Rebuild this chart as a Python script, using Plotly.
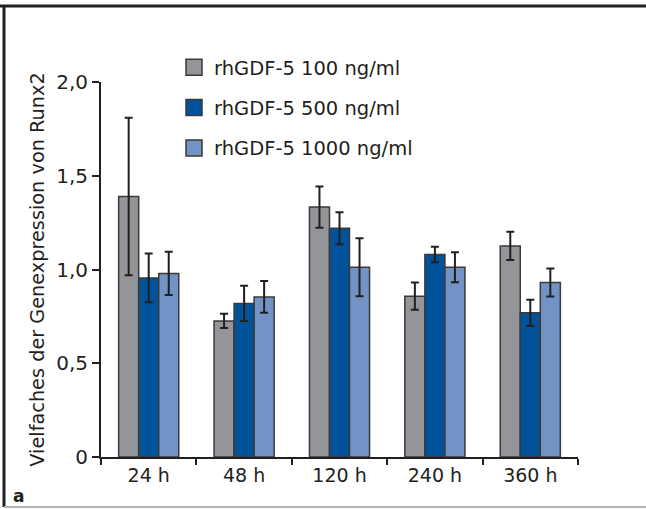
import plotly.graph_objects as go

categories = ["24 h", "48 h", "120 h", "240 h", "360 h"]
series_names = ["rhGDF-5 100 ng/ml", "rhGDF-5 500 ng/ml", "rhGDF-5 1000 ng/ml"]
vals_100 = [1.39, 0.726, 1.333, 0.858, 1.126]
err_100 = [0.42, 0.038, 0.11, 0.073, 0.075]
vals_500 = [0.955, 0.819, 1.22, 1.08, 0.769]
err_500 = [0.13, 0.094, 0.085, 0.041, 0.07]
vals_1000 = [0.979, 0.854, 1.012, 1.012, 0.931]
err_1000 = [0.115, 0.085, 0.155, 0.08, 0.075]
colors = ["#939598", "#00539a", "#7193c5"]
ytick_vals = [0, 0.5, 1.0, 1.5, 2.0]
ytick_text = ["0", "0,5", "1,0", "1,5", "2,0"]
y_title = "Vielfaches der Genexpression von Runx2"
panel_label = "a"

W, H = 646, 509
L, R, T, B = 101, 68, 82, 52
pw = W - L - R
ph = H - T - B


def px(x):
    return (x - L) / pw


def py(y):
    return (H - B - y) / ph


INK = "#231f20"
FONT = "DejaVu Sans"

fig = go.Figure()
for name, vals, errs, col in zip(series_names, [vals_100, vals_500, vals_1000],
                                 [err_100, err_500, err_1000], colors):
    fig.add_trace(go.Bar(
        x=categories, y=vals, name=name, showlegend=False,
        marker=dict(color=col, line=dict(color="#3a3a3a", width=1.5)),
        error_y=dict(type="data", array=errs, visible=True, color=INK,
                     thickness=2, width=4),
    ))
for name, col in zip(series_names, colors):
    fig.add_trace(go.Scatter(
        x=[None], y=[None], mode="markers", name=name, legendgroup=name,
        marker=dict(symbol="square", size=16, color=col,
                    line=dict(color="#3a3a3a", width=1.5)),
    ))

fig.update_layout(
    width=W, height=H, autosize=False,
    margin=dict(l=L, r=R, t=T, b=B, pad=0),
    paper_bgcolor="white", plot_bgcolor="white",
    barmode="group", bargap=0.37, bargroupgap=0,
    font=dict(family=FONT, color=INK, size=19),
    showlegend=True,
    legend=dict(x=px(174), y=py(48), xanchor="left", yanchor="top",
                font=dict(size=19.5, color=INK), bgcolor="rgba(0,0,0,0)",
                tracegroupgap=12, itemsizing="trace"),
    xaxis=dict(range=[-0.5, 4.5], showline=True, linecolor=INK, linewidth=2,
               ticks="outside", tickson="boundaries", ticklen=6, tickwidth=2,
               tickcolor=INK, showgrid=False, tickfont=dict(size=19, color=INK)),
    yaxis=dict(range=[0, 2], showline=True, linecolor=INK, linewidth=2,
               ticks="outside", ticklen=7, tickwidth=1.5, tickcolor=INK,
               tickvals=ytick_vals, ticktext=ytick_text, showgrid=False,
               zeroline=False, tickfont=dict(size=20, color=INK),
               title=dict(text=y_title, font=dict(size=19.3, color=INK), standoff=6)),
    shapes=[
        dict(type="line", xref="paper", yref="paper", x0=px(0), x1=px(W),
             y0=py(6), y1=py(6), line=dict(color=INK, width=3)),
        dict(type="line", xref="paper", yref="paper", x0=px(4), x1=px(4),
             y0=py(5), y1=py(507), line=dict(color=INK, width=3)),
        dict(type="line", xref="paper", yref="paper", x0=px(4), x1=px(W),
             y0=py(507), y1=py(507), line=dict(color="#b5b5b5", width=2)),
    ],
    annotations=[
        dict(text="<b>" + panel_label + "</b>", xref="paper", yref="paper",
             x=px(11), y=py(496), xanchor="left", yanchor="middle",
             showarrow=False, font=dict(size=17, color=INK, family=FONT)),
    ],
)

fig.write_html("out.html")
